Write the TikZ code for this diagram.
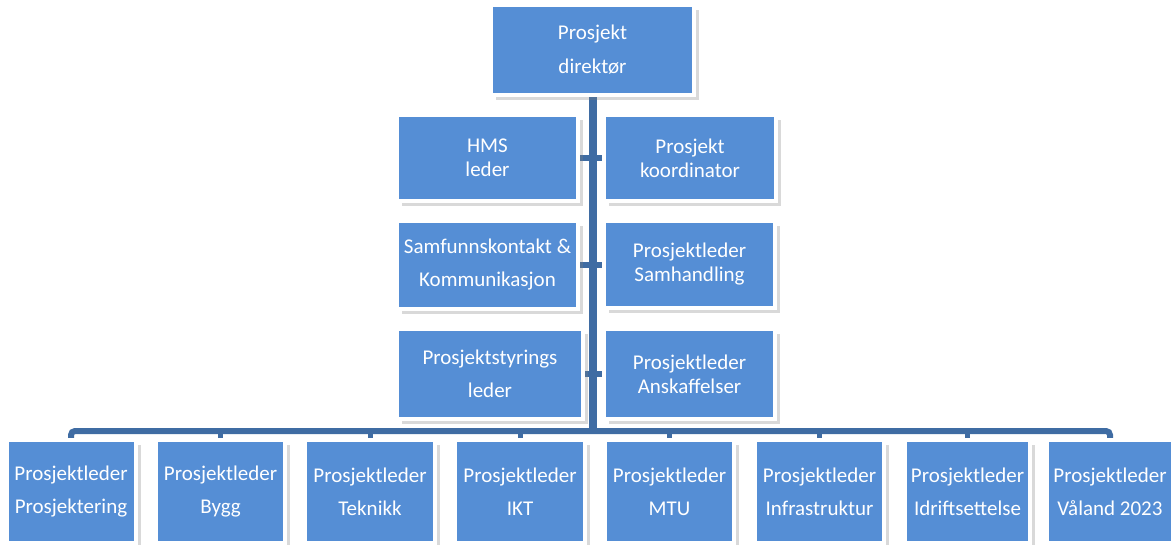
\documentclass[tikz,border=0pt]{standalone}
\usepackage{fontspec}
\setmainfont{Carlito}
\usetikzlibrary{positioning}
\usetikzlibrary{shadows}
\usetikzlibrary{backgrounds}
\definecolor{boxblue}{RGB}{85,142,213}
\definecolor{linkblue}{RGB}{63,108,163}
\tikzset{role/.style = {fill=boxblue, draw=white, line width=4, text=white, align=center, inner sep=0, font=\fontsize{21}{24}\selectfont, drop shadow={shadow xshift=5pt, shadow yshift=-5pt, opacity=0.3}}}
\tikzset{link/.style = {draw=linkblue, line width=6}}

\begin{document}
\begin{tikzpicture}[x=1pt, y=-1pt]
    \useasboundingbox (0, 0) rectangle (1174, 544);

    \node [role, minimum width=203, minimum height=90] (dir) at (592.5, 50) {Prosjekt\\[10pt]direktør};

    \node [role, minimum width=181, minimum height=86] (hms) at (487.5, 158) {HMS\\leder};
    \node [role, minimum width=172, minimum height=86] (koord) at (690, 158) {Prosjekt\\koordinator};
    \node [role, minimum width=181, minimum height=88] (samf) at (487.5, 265) {Samfunnskontakt \&\\[9pt]Kommunikasjon};
    \node [role, minimum width=171, minimum height=87] (samh) at (689.5, 264.5) {Prosjektleder\\Samhandling};
    \node [role, minimum width=186, minimum height=90] (styr) at (490, 374) {Prosjektstyrings\\[9pt]leder};
    \node [role, minimum width=171, minimum height=90] (ansk) at (689.5, 374) {Prosjektleder\\Anskaffelser};

    \node [role, minimum width=129, minimum height=103] (prosj) at (71, 491.5) {Prosjektleder\\[9pt]Prosjektering};
    \node [role, minimum width=129, minimum height=103] (bygg) at (220.5, 491.5) {Prosjektleder\\[9pt]Bygg};
    \node [role, minimum width=130, minimum height=103] (tek) at (370, 491.5) {Prosjektleder\\[9pt]Teknikk};
    \node [role, minimum width=130, minimum height=103] (ikt) at (520, 491.5) {Prosjektleder\\[9pt]IKT};
    \node [role, minimum width=129, minimum height=103] (mtu) at (669.5, 491.5) {Prosjektleder\\[9pt]MTU};
    \node [role, minimum width=129, minimum height=103] (infra) at (819.5, 491.5) {Prosjektleder\\[9pt]Infrastruktur};
    \node [role, minimum width=125, minimum height=103] (idr) at (967.5, 491.5) {Prosjektleder\\[9pt]Idriftsettelse};
    \node [role, minimum width=126, minimum height=103] (valand) at (1110, 491.5) {Prosjektleder\\[9pt]Våland 2023};

    \coordinate (bus) at (592.5, 431);

    \begin{scope}[on background layer]
        \draw [link, line width=8] (dir.south) -- (bus);
        \draw [link] (hms.east) -- (hms.east -| koord.west);
        \draw [link] (samf.east) -- (samf.east -| samh.west);
        \draw [link] (styr.east) -- (styr.east -| ansk.west);

        \draw [link, rounded corners=4] (prosj.north) -- (prosj.north |- bus) -- (valand.north |- bus) -- (valand.north);
        \draw [link, line width=5] (bygg.north) -- (bygg.north |- bus);
        \draw [link, line width=5] (tek.north) -- (tek.north |- bus);
        \draw [link, line width=5] (ikt.north) -- (ikt.north |- bus);
        \draw [link, line width=5] (mtu.north) -- (mtu.north |- bus);
        \draw [link, line width=5] (infra.north) -- (infra.north |- bus);
        \draw [link, line width=5] (idr.north) -- (idr.north |- bus);
    \end{scope}
\end{tikzpicture}
\end{document}
